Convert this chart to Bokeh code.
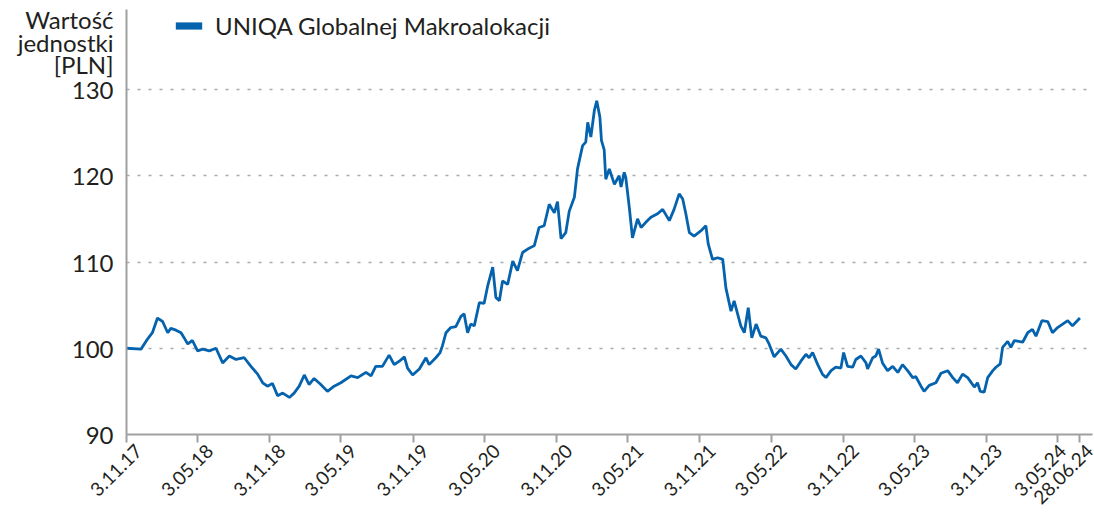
import pandas as pd
from math import pi
from bokeh.plotting import figure
from bokeh.models import Range1d, FixedTicker, Legend, LegendItem
from bokeh.embed import file_html
from bokeh.resources import INLINE

# ---------------- data ----------------
start_date = "2017-11-03"
series_name = "UNIQA Globalnej Makroalokacji"
y_title = ["Wartość", "jednostki", "[PLN]"]

# days since 3.11.17
day_offsets = [
    0, 37, 54, 66, 79, 92, 105, 113, 126, 139, 147, 156, 168, 181, 194, 211, 228, 245, 262, 279,
    300, 317, 334, 347, 359, 372, 385, 398, 415, 427, 440, 453, 465, 478, 495, 512, 529, 546, 572, 589,
    610, 623, 635, 652, 669, 682, 695, 708, 716, 729, 746, 763, 771, 788, 799, 805, 814, 826, 839, 852,
    860, 869, 877, 886, 899, 911, 920, 933, 941, 950, 958, 971, 984, 996, 1009, 1022, 1039, 1051, 1064, 1077,
    1090, 1098, 1107, 1119, 1128, 1141, 1149, 1162, 1170, 1175, 1183, 1192, 1198, 1206, 1210, 1217, 1221, 1230, 1243, 1255,
    1260, 1268, 1272, 1281, 1289, 1302, 1311, 1323, 1336, 1353, 1366, 1383, 1395, 1408, 1417, 1425, 1434, 1446, 1463, 1476,
    1482, 1493, 1506, 1519, 1527, 1540, 1548, 1565, 1574, 1584, 1593, 1604, 1616, 1629, 1637, 1650, 1667, 1680, 1693, 1705,
    1718, 1731, 1739, 1748, 1761, 1773, 1782, 1795, 1807, 1820, 1827, 1837, 1850, 1858, 1871, 1884, 1888, 1901, 1909, 1916,
    1926, 1939, 1952, 1965, 1977, 1990, 2003, 2011, 2024, 2032, 2045, 2062, 2075, 2092, 2105, 2117, 2130, 2143, 2160, 2168,
    2175, 2185, 2194, 2207, 2215, 2226, 2232, 2245, 2253, 2262, 2283, 2296, 2308, 2317, 2332, 2347, 2359, 2372, 2385, 2398,
    2410, 2429,
]
unit_values = [
    100.0, 99.9, 101.1, 101.8, 103.5, 103.1, 101.8, 102.3, 102.1, 101.8, 101.2, 100.5, 100.9, 99.7, 99.9, 99.7, 100.0, 98.3, 99.1, 98.7,
    98.9, 97.9, 97.0, 96.0, 95.6, 95.9, 94.5, 94.8, 94.3, 94.8, 95.6, 96.9, 95.8, 96.5, 95.8, 95.0, 95.6, 96.0, 96.8, 96.6,
    97.2, 96.8, 97.9, 97.9, 99.2, 98.1, 98.5, 99.0, 97.7, 96.9, 97.6, 98.9, 98.1, 98.9, 99.5, 100.3, 101.8, 102.4, 102.5, 103.7,
    104.0, 101.8, 102.8, 102.6, 105.3, 105.2, 107.2, 109.4, 105.9, 105.5, 107.8, 107.4, 110.1, 109.0, 111.1, 111.5, 111.9, 114.0, 114.2, 116.7,
    115.7, 117.0, 112.7, 113.4, 115.9, 117.5, 120.8, 123.5, 123.9, 126.2, 124.5, 127.6, 128.7, 126.8, 124.1, 123.0, 119.6, 120.8, 119.0, 120.0,
    118.7, 120.4, 119.8, 116.3, 112.8, 115.0, 114.0, 114.6, 115.2, 115.6, 116.1, 114.8, 116.1, 117.9, 117.3, 115.6, 113.4, 113.0, 113.6, 114.2,
    112.1, 110.3, 110.5, 110.3, 107.0, 104.3, 105.5, 102.6, 101.8, 104.7, 101.2, 102.8, 101.4, 101.2, 100.5, 99.0, 99.9, 99.1, 98.1, 97.6,
    98.5, 99.3, 98.9, 99.5, 98.1, 97.0, 96.6, 97.4, 97.8, 97.7, 99.5, 97.9, 97.8, 98.7, 99.1, 98.3, 97.6, 98.9, 99.1, 99.9,
    98.3, 97.4, 97.9, 97.2, 98.1, 97.4, 96.6, 96.7, 95.6, 95.0, 95.7, 96.0, 97.1, 97.4, 96.6, 96.0, 97.0, 96.6, 95.5, 96.0,
    95.0, 94.9, 96.6, 97.4, 97.8, 98.2, 100.1, 100.8, 100.1, 100.9, 100.7, 101.8, 102.2, 101.4, 103.2, 103.1, 101.8, 102.4, 102.8, 103.2,
    102.6, 103.5,
]

tick_dates = ["2017-11-03", "2018-05-03", "2018-11-03", "2019-05-03", "2019-11-03",
              "2020-05-03", "2020-11-03", "2021-05-03", "2021-11-03", "2022-05-03",
              "2022-11-03", "2023-05-03", "2023-11-03", "2024-05-03", "2024-06-28"]
tick_labels = ["3.11.17", "3.05.18", "3.11.18", "3.05.19", "3.11.19",
               "3.05.20", "3.11.20", "3.05.21", "3.11.21", "3.05.22",
               "3.11.22", "3.05.23", "3.11.23", "3.05.24", "28.06.24"]
y_ticks = [90, 100, 110, 120, 130]

# ---------------- style / layout ----------------
BLUE = "#0563ae"
TEXT = "#231f20"
AXIS = "#a0a0a0"
FONT = "Lato"
# rotated date labels sit a little right of their tick (in days); 3.05.24 nudged less
LABEL_SHIFT = [31] * 13 + [12, 31]
X_END = 2461                    # frame a bit wider than the data so shifted labels stay in range
Y_END = 139.28                  # axis line continues above 130 (title / legend area)
TITLE_LEVELS = [138.1, 135.45, 132.9]   # vertical placement of the three title lines

tick_pos = [int((pd.Timestamp(d) - pd.Timestamp(start_date)).days) for d in tick_dates]
label_pos = [t + s for t, s in zip(tick_pos, LABEL_SHIFT)]

p = figure(width=1094, height=510, frame_width=966, frame_height=425,
           output_backend="svg", toolbar_location=None,
           x_range=Range1d(0, X_END), y_range=Range1d(90, Y_END),
           min_border_left=126, min_border_right=2, min_border_top=9, min_border_bottom=76)
p.outline_line_color = None
p.background_fill_color = "white"

p.line(day_offsets, unit_values, line_color=BLUE, line_width=2.8)

# x axis: tick marks (minor ticks at the real dates), labels at shifted major positions
xa = p.xaxis[0]
xa.ticker = FixedTicker(ticks=label_pos, minor_ticks=tick_pos)
xa.major_label_overrides = {t: l for t, l in zip(label_pos, tick_labels)}
xa.major_label_orientation = pi / 4
xa.axis_line_color = AXIS
xa.axis_line_width = 2
xa.major_tick_line_color = None
xa.major_tick_in = 0
xa.major_tick_out = 8
xa.minor_tick_line_color = AXIS
xa.minor_tick_line_width = 2
xa.minor_tick_in = 0
xa.minor_tick_out = 8
xa.major_label_standoff = 5
xa.major_label_text_font = FONT
xa.major_label_text_font_size = "19px"
xa.major_label_text_color = TEXT

# y axis (title lines are extra ticks above 130)
ya = p.yaxis[0]
ya.ticker = FixedTicker(ticks=y_ticks + TITLE_LEVELS)
ya.major_label_overrides = {v: t for v, t in zip(TITLE_LEVELS, y_title)}
ya.axis_line_color = AXIS
ya.axis_line_width = 2
ya.major_tick_line_color = None
ya.major_tick_in = 0
ya.major_tick_out = 0
ya.minor_tick_line_color = None
ya.major_label_text_font = FONT
ya.major_label_text_font_size = "24px"
ya.major_label_text_color = TEXT
ya.major_label_standoff = 13

p.xgrid.grid_line_color = None
p.ygrid.ticker = FixedTicker(ticks=y_ticks)
p.ygrid.grid_line_color = "#aaaaaa"
p.ygrid.grid_line_width = 1.5
p.ygrid.grid_line_dash = "3 8"

# legend (a filled swatch, drawn from a renderer that has no visible data)
nan = float("nan")
leg_r = p.quad(left=[nan], right=[nan], top=[nan], bottom=[nan], fill_color=BLUE, line_color=None)
legend = Legend(items=[LegendItem(label=series_name, renderers=[leg_r])],
                location=(46, 394), glyph_width=33, glyph_height=9, label_standoff=10,
                padding=0, margin=0, border_line_color=None, background_fill_alpha=0,
                label_text_font=FONT, label_text_font_size="24px", label_text_color=TEXT,
                label_height=20)
p.add_layout(legend)

open("out.html", "w").write(file_html(p, INLINE))
